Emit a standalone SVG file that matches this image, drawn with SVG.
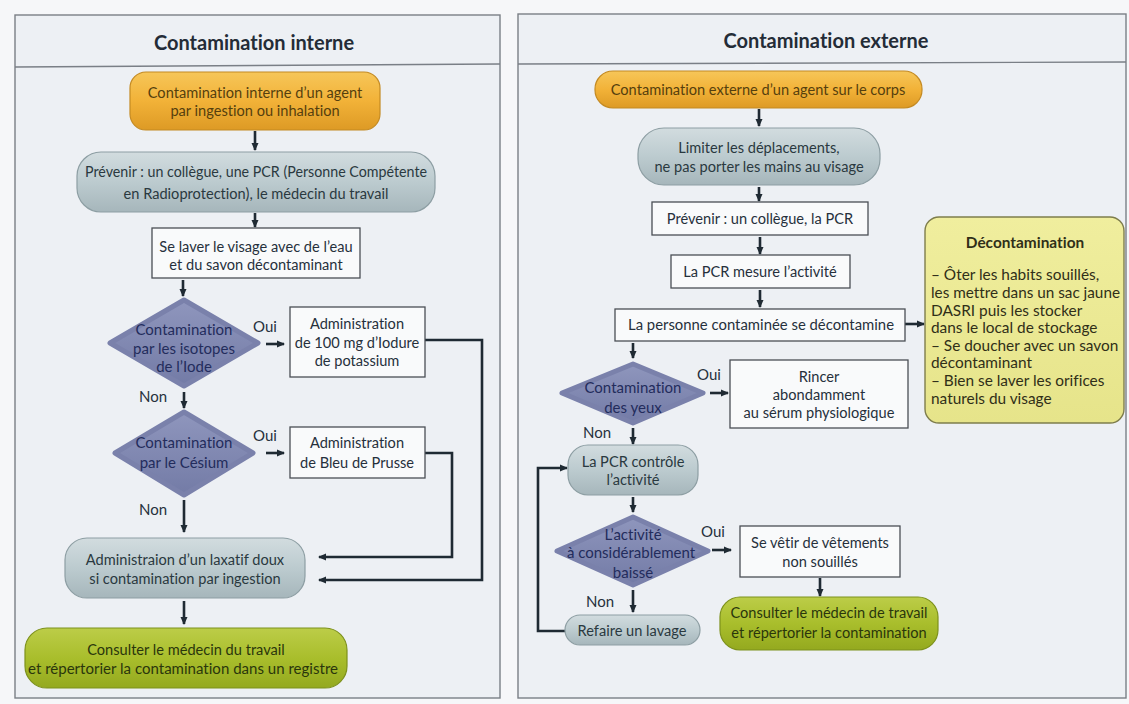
<svg xmlns="http://www.w3.org/2000/svg" width="1129" height="704" viewBox="0 0 1129 704">
<defs>
<linearGradient id="gOr" x1="0" y1="0" x2="0" y2="1"><stop offset="0" stop-color="#f6c659"/><stop offset="0.5" stop-color="#f2b238"/><stop offset="1" stop-color="#dd9a25"/></linearGradient>
<linearGradient id="gGr" x1="0" y1="0" x2="0" y2="1"><stop offset="0" stop-color="#d2dcdf"/><stop offset="0.5" stop-color="#bccbcf"/><stop offset="1" stop-color="#a6b6bb"/></linearGradient>
<linearGradient id="gGn" x1="0" y1="0" x2="0" y2="1"><stop offset="0" stop-color="#bccd48"/><stop offset="0.5" stop-color="#a9be2c"/><stop offset="1" stop-color="#94a91f"/></linearGradient>
<linearGradient id="gDi" x1="0" y1="0" x2="0" y2="1"><stop offset="0" stop-color="#8f96bd"/><stop offset="1" stop-color="#737ba6"/></linearGradient>
<linearGradient id="gYe" x1="0" y1="0" x2="0" y2="1"><stop offset="0" stop-color="#f0ee9e"/><stop offset="1" stop-color="#e6e48a"/></linearGradient>
<marker id="ah" viewBox="0 0 8 8" refX="7" refY="4" markerWidth="8" markerHeight="8" markerUnits="userSpaceOnUse" orient="auto"><path d="M0,0.5 L8,4 L0,7.5 z" fill="#1f2a33"/></marker>
</defs>
<style>
text{font-family:Lato,"Open Sans","Liberation Sans",sans-serif;font-size:14.6px;text-anchor:middle;font-variant-ligatures:none;font-feature-settings:"liga" 0}
.t{fill:#26303c}
.ttl{font-size:20px;font-weight:bold;fill:#242c37}
.or{fill:url(#gOr);stroke:#c48a22;stroke-width:1.2}
.or-t{fill:#553f0e}
.gr{fill:url(#gGr);stroke:#8d9ea3;stroke-width:1.2}
.gr-t{fill:#2a3940}
.gn{fill:url(#gGn);stroke:#7d911c;stroke-width:1.2}
.gn-t{fill:#2a360c}
.di{fill:url(#gDi);stroke:#7a81ab;stroke-width:5;stroke-linejoin:round}
.di-t{fill:#232c5c;font-size:15px}
.wb{fill:#f9fafb;stroke:#4a4f55;stroke-width:1.3}
.ye{fill:url(#gYe);stroke:#7e7d4c;stroke-width:1.4}
.ye-t{fill:#302f18;text-anchor:start;font-size:15.4px}
.lbl{fill:#26303c;font-size:15px}
.c{fill:none;stroke:#1f2a33;stroke-width:2.6}
.frame{fill:#edf0f4;stroke:#7a7f86;stroke-width:1.4}
.hl{stroke:#7a7f86;stroke-width:1.4}
</style>
<rect x="0" y="0" width="1129" height="704" fill="#f6f7f9"/>
<g id="frames">
<rect class="frame" x="15" y="15" width="485" height="683"/>
<line class="hl" x1="15" y1="67" x2="500" y2="64"/>
<rect class="frame" x="518" y="14" width="608" height="684"/>
<line class="hl" x1="518" y1="64" x2="1126" y2="62"/>
<text class="ttl" x="254" y="50">Contamination interne</text>
<text class="ttl" x="826" y="48">Contamination externe</text>
</g>
<g id="connectors">
<line class="c" x1="255" y1="131" x2="255" y2="150" marker-end="url(#ah)"/>
<line class="c" x1="255" y1="213" x2="255" y2="227" marker-end="url(#ah)"/>
<line class="c" x1="183" y1="280" x2="183" y2="296" marker-end="url(#ah)"/>
<line class="c" x1="266" y1="344" x2="284" y2="344" marker-end="url(#ah)"/>
<path class="c" d="M425,340 H482 V580 H319" marker-end="url(#ah)"/>
<line class="c" x1="184" y1="392" x2="184" y2="408" marker-end="url(#ah)"/>
<line class="c" x1="266" y1="453" x2="284" y2="453" marker-end="url(#ah)"/>
<path class="c" d="M425,453 H452 V557 H319" marker-end="url(#ah)"/>
<line class="c" x1="184" y1="500" x2="184" y2="532" marker-end="url(#ah)"/>
<line class="c" x1="184" y1="601" x2="184" y2="624" marker-end="url(#ah)"/>
<line class="c" x1="759" y1="109" x2="759" y2="126" marker-end="url(#ah)"/>
<line class="c" x1="759" y1="187" x2="759" y2="201" marker-end="url(#ah)"/>
<line class="c" x1="760" y1="237" x2="760" y2="254" marker-end="url(#ah)"/>
<line class="c" x1="760" y1="290" x2="760" y2="307" marker-end="url(#ah)"/>
<line class="c" x1="905" y1="324" x2="924" y2="324" marker-end="url(#ah)"/>
<line class="c" x1="633" y1="343" x2="633" y2="358" marker-end="url(#ah)"/>
<line class="c" x1="710" y1="393" x2="728" y2="393" marker-end="url(#ah)"/>
<line class="c" x1="633" y1="428" x2="633" y2="444" marker-end="url(#ah)"/>
<line class="c" x1="633" y1="497" x2="633" y2="512" marker-end="url(#ah)"/>
<line class="c" x1="712" y1="550" x2="731" y2="550" marker-end="url(#ah)"/>
<line class="c" x1="820" y1="578" x2="820" y2="596" marker-end="url(#ah)"/>
<line class="c" x1="633" y1="590" x2="633" y2="612" marker-end="url(#ah)"/>
<path class="c" d="M566,631 H538 V468 H567" marker-end="url(#ah)"/>
</g>
<g id="labels">
<text class="lbl" x="265" y="332">Oui</text>
<text class="lbl" x="153" y="402">Non</text>
<text class="lbl" x="265" y="441">Oui</text>
<text class="lbl" x="153" y="515">Non</text>
<text class="lbl" x="709" y="380">Oui</text>
<text class="lbl" x="597" y="438">Non</text>
<text class="lbl" x="713" y="537">Oui</text>
<text class="lbl" x="600" y="607">Non</text>
</g>
<g id="n-int-start">
<rect class="or" x="130" y="72" width="250" height="58" rx="16"/>
<text class="or-t" x="255" y="98">Contamination interne d’un agent</text>
<text class="or-t" x="255" y="116">par ingestion ou inhalation</text>
</g>
<g id="n-int-prevenir">
<rect class="gr" x="77" y="152" width="358" height="60" rx="24"/>
<text class="gr-t" x="256" y="177" textLength="342" lengthAdjust="spacingAndGlyphs">Prévenir : un collègue, une PCR (Personne Compétente</text>
<text class="gr-t" x="256" y="199">en Radioprotection), le médecin du travail</text>
</g>
<g id="n-int-laver">
<rect class="wb" x="152" y="228" width="208" height="50"/>
<text class="t" x="256" y="252">Se laver le visage avec de l’eau</text>
<text class="t" x="256" y="270">et du savon décontaminant</text>
</g>
<g id="n-int-iode">
<path class="di" d="M184,300 L258,343 L184,386 L110,343 Z"/>
<text class="di-t" x="184" y="335">Contamination</text>
<text class="di-t" x="184" y="354">par les isotopes</text>
<text class="di-t" x="184" y="372">de l’Iode</text>
</g>
<g id="n-int-iodure">
<rect class="wb" x="290" y="307" width="135" height="70"/>
<text class="t" x="357" y="329">Administration</text>
<text class="t" x="357" y="348">de 100 mg d’Iodure</text>
<text class="t" x="357" y="366">de potassium</text>
</g>
<g id="n-int-cesium">
<path class="di" d="M184,412 L253,453 L184,495 L115,453 Z"/>
<text class="di-t" x="184" y="448">Contamination</text>
<text class="di-t" x="184" y="468">par le Césium</text>
</g>
<g id="n-int-bleu">
<rect class="wb" x="290" y="427" width="135" height="51"/>
<text class="t" x="357" y="448">Administration</text>
<text class="t" x="357" y="468">de Bleu de Prusse</text>
</g>
<g id="n-int-laxatif">
<rect class="gr" x="65" y="538" width="240" height="60" rx="22"/>
<text class="gr-t" x="185" y="565">Administraion d’un laxatif doux</text>
<text class="gr-t" x="185" y="584">si contamination par ingestion</text>
</g>
<g id="n-int-consulter">
<rect class="gn" x="25" y="628" width="322" height="60" rx="22"/>
<text class="gn-t" x="186" y="655">Consulter le médecin du travail</text>
<text class="gn-t" x="183" y="674" textLength="310" lengthAdjust="spacingAndGlyphs">et répertorier la contamination dans un registre</text>
</g>
<g id="n-ext-start">
<rect class="or" x="595" y="71" width="327" height="37" rx="18"/>
<text class="or-t" x="758" y="95">Contamination externe d’un agent sur le corps</text>
</g>
<g id="n-ext-limiter">
<rect class="gr" x="638" y="128" width="242" height="57" rx="26"/>
<text class="gr-t" x="759" y="153">Limiter les déplacements,</text>
<text class="gr-t" x="759" y="172">ne pas porter les mains au visage</text>
</g>
<g id="n-ext-prevenir">
<rect class="wb" x="652" y="202" width="216" height="33"/>
<text class="t" x="760" y="224">Prévenir : un collègue, la PCR</text>
</g>
<g id="n-ext-mesure">
<rect class="wb" x="671" y="255" width="179" height="33"/>
<text class="t" x="760" y="277">La PCR mesure l’activité</text>
</g>
<g id="n-ext-personne">
<rect class="wb" x="615" y="309" width="290" height="32"/>
<text class="t" x="761" y="330" textLength="266" lengthAdjust="spacingAndGlyphs">La personne contaminée se décontamine</text>
</g>
<g id="n-ext-decontamination">
<rect class="ye" x="925" y="217" width="199" height="206" rx="14"/>
<text class="ye-t" x="1025" y="248" style="text-anchor:middle;font-weight:bold">Décontamination</text>
<text class="ye-t" x="931" y="280">– Ôter les habits souillés,</text>
<text class="ye-t" x="931" y="298" textLength="189" lengthAdjust="spacingAndGlyphs">les mettre dans un sac jaune</text>
<text class="ye-t" x="931" y="316">DASRI puis les stocker</text>
<text class="ye-t" x="931" y="333">dans le local de stockage</text>
<text class="ye-t" x="931" y="351">– Se doucher avec un savon</text>
<text class="ye-t" x="931" y="368">décontaminant</text>
<text class="ye-t" x="931" y="386">– Bien se laver les orifices</text>
<text class="ye-t" x="931" y="404">naturels du visage</text>
</g>
<g id="n-ext-yeux">
<path class="di" d="M633,364 L703,393 L633,423 L562,393 Z"/>
<text class="di-t" x="633" y="393">Contamination</text>
<text class="di-t" x="633" y="413">des yeux</text>
</g>
<g id="n-ext-rincer">
<rect class="wb" x="730" y="360" width="178" height="68"/>
<text class="t" x="819" y="382">Rincer</text>
<text class="t" x="819" y="400">abondamment</text>
<text class="t" x="819" y="418">au sérum physiologique</text>
</g>
<g id="n-ext-controle">
<rect class="gr" x="568" y="445" width="130" height="50" rx="20"/>
<text class="gr-t" x="633" y="467">La PCR contrôle</text>
<text class="gr-t" x="633" y="485">l’activité</text>
</g>
<g id="n-ext-activite">
<path class="di" d="M633,517 L708,551 L633,585 L557,551 Z"/>
<text class="di-t" x="633" y="540">L’activité</text>
<text class="di-t" x="631" y="558">à considérablement</text>
<text class="di-t" x="633" y="578">baissé</text>
</g>
<g id="n-ext-vetir">
<rect class="wb" x="740" y="526" width="160" height="51"/>
<text class="t" x="820" y="548">Se vêtir de vêtements</text>
<text class="t" x="820" y="567">non souillés</text>
</g>
<g id="n-ext-refaire">
<rect class="gr" x="565" y="615" width="135" height="30" rx="15"/>
<text class="gr-t" x="632" y="636">Refaire un lavage</text>
</g>
<g id="n-ext-consulter">
<rect class="gn" x="720" y="597" width="218" height="53" rx="20"/>
<text class="gn-t" x="829" y="618">Consulter le médecin de travail</text>
<text class="gn-t" x="829" y="638">et répertorier la contamination</text>
</g>
</svg>
